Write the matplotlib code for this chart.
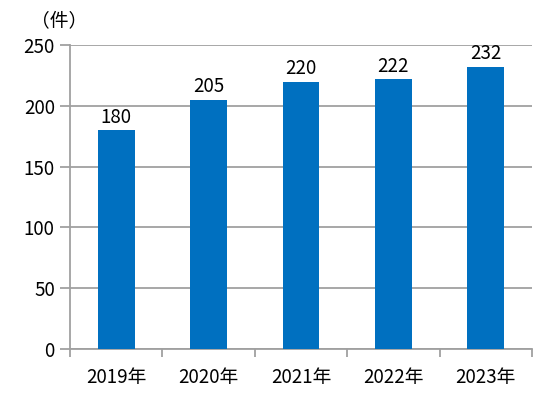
import matplotlib.pyplot as plt
import numpy as np

plt.rcParams['font.family'] = ['Noto Sans CJK JP', 'DejaVu Sans']

years = ['2019年', '2020年', '2021年', '2022年', '2023年']
counts = [180, 205, 220, 222, 232]

fig = plt.figure(figsize=(5.41, 3.95), dpi=100)
ax = fig.add_axes([0.1294, 0.1165, 0.854, 0.7695])

x = np.arange(len(years))
ax.bar(x, counts, width=0.4, color='#0070C0', zorder=3)
for xi, v in zip(x, counts):
    ax.text(xi, v + 2, str(v), ha='center', va='bottom', fontsize=13.5, zorder=4)

ax.set_xlim(-0.5, len(years) - 0.5)
ax.set_ylim(0, 250)
ax.set_yticks(range(0, 251, 50))
ax.yaxis.grid(True, color='#A0A0A0', linewidth=1.3, zorder=0)
ax.tick_params(axis='y', length=7, width=1.3, color='#A0A0A0', labelsize=13.5, pad=4)

ax.set_xticks(np.arange(-0.5, len(years), 1))
ax.set_xticklabels([])
ax.set_xticks(x, minor=True)
ax.set_xticklabels(years, minor=True)
ax.tick_params(axis='x', which='major', length=6, width=1.3, color='#A0A0A0')
ax.tick_params(axis='x', which='minor', length=0, labelsize=13.5, pad=13)

for s in ['top', 'right']:
    ax.spines[s].set_visible(False)
for s in ['left', 'bottom']:
    ax.spines[s].set_color('#A0A0A0')
    ax.spines[s].set_linewidth(1.3)

fig.text(0.058, 0.948, '（件）', fontsize=13.5, va='center', ha='left')

fig.savefig('out.png', dpi=100)
